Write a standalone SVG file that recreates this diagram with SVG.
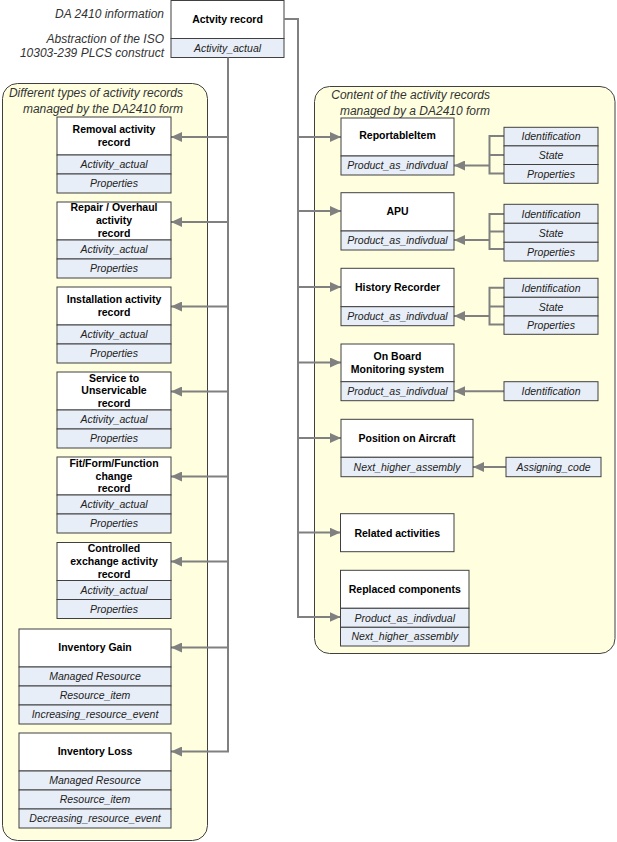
<svg xmlns="http://www.w3.org/2000/svg" width="617" height="842" viewBox="0 0 617 842">
<style>
text{font-family:"Liberation Sans",Arial,Helvetica,sans-serif}
.panel{fill:#FFFFE0;stroke:#404040;stroke-width:1}
.hdr{fill:#FFFFFF;stroke:#404040;stroke-width:1}
.cmp{fill:#E8EEF7;stroke:#404040;stroke-width:1}
.t{font-size:10.5px;font-weight:bold;fill:#000;text-anchor:middle}
.i{font-size:10.5px;font-style:italic;fill:#222;text-anchor:middle}
.lbl{font-size:12px;font-style:italic;fill:#333;text-anchor:end}
.conn{fill:none;stroke:#808080;stroke-width:2}
</style>
<defs>
<marker id="arr" markerUnits="userSpaceOnUse" markerWidth="11" markerHeight="10" refX="11" refY="5" orient="auto">
<path d="M0,0 L11,5 L0,10 z" fill="#808080"/>
</marker>
</defs>

<g id="panel-left">
<rect class="panel" x="2.5" y="83.5" width="205" height="757" rx="15" ry="15"/>
<text class="lbl" x="183" y="96.5">Different types of activity records</text>
<text class="lbl" x="183" y="112.5">managed by the DA2410 form</text>
</g>
<g id="panel-right">
<rect class="panel" x="314.5" y="86.5" width="300.5" height="567" rx="15" ry="15"/>
<text class="lbl" x="490" y="99">Content of the activity records</text>
<text class="lbl" x="490" y="115">managed by a DA2410 form</text>
</g>

<g id="labels-top">
<text class="lbl" x="164" y="17.5">DA 2410 information</text>
<text class="lbl" x="164" y="43">Abstraction of the ISO</text>
<text class="lbl" x="164" y="57">10303-239 PLCS construct</text>
</g>

<g id="activity-record">
<rect class="hdr" x="171" y="0.5" width="113" height="38"/>
<rect class="cmp" x="171" y="38.5" width="113" height="19"/>
<text class="t" x="227.5" y="23">Actvity record</text>
<text class="i" x="227.5" y="51.8">Activity_actual</text>
</g>

<g id="connectors">
<polyline class="conn" points="228,57.5 228,752"/>
<line class="conn" x1="228" y1="137" x2="171" y2="137" marker-end="url(#arr)"/>
<line class="conn" x1="228" y1="222" x2="171" y2="222" marker-end="url(#arr)"/>
<line class="conn" x1="228" y1="306.5" x2="171" y2="306.5" marker-end="url(#arr)"/>
<line class="conn" x1="228" y1="391.5" x2="171" y2="391.5" marker-end="url(#arr)"/>
<line class="conn" x1="228" y1="476.5" x2="171" y2="476.5" marker-end="url(#arr)"/>
<line class="conn" x1="228" y1="561.5" x2="171" y2="561.5" marker-end="url(#arr)"/>
<line class="conn" x1="228" y1="647.5" x2="171" y2="647.5" marker-end="url(#arr)"/>
<line class="conn" x1="229" y1="751.5" x2="171" y2="751.5" marker-end="url(#arr)"/>

<polyline class="conn" points="284,19 298,19 298,617"/>
<line class="conn" x1="298" y1="137" x2="341" y2="137" marker-end="url(#arr)"/>
<line class="conn" x1="298" y1="211" x2="341" y2="211" marker-end="url(#arr)"/>
<line class="conn" x1="298" y1="287" x2="341" y2="287" marker-end="url(#arr)"/>
<line class="conn" x1="298" y1="362.5" x2="341" y2="362.5" marker-end="url(#arr)"/>
<line class="conn" x1="298" y1="438" x2="341" y2="438" marker-end="url(#arr)"/>
<line class="conn" x1="298" y1="532.5" x2="340.5" y2="532.5" marker-end="url(#arr)"/>
<line class="conn" x1="297" y1="617" x2="340.5" y2="617" marker-end="url(#arr)"/>

<polyline class="conn" points="504,136 489.5,136 489.5,173.5 504,173.5"/>
<line class="conn" x1="489.5" y1="155" x2="504" y2="155"/>
<line class="conn" x1="489.5" y1="165.5" x2="454" y2="165.5" marker-end="url(#arr)"/>

<polyline class="conn" points="504,214 489.5,214 489.5,249 504,249"/>
<line class="conn" x1="489.5" y1="231.5" x2="504" y2="231.5"/>
<line class="conn" x1="489.5" y1="240" x2="454" y2="240" marker-end="url(#arr)"/>

<polyline class="conn" points="504,287.8 489.5,287.8 489.5,324.5 504,324.5"/>
<line class="conn" x1="489.5" y1="306.5" x2="504" y2="306.5"/>
<line class="conn" x1="489.5" y1="316" x2="454" y2="316" marker-end="url(#arr)"/>

<line class="conn" x1="504" y1="391.2" x2="454" y2="391.2" marker-end="url(#arr)"/>
<line class="conn" x1="506" y1="467" x2="473" y2="467" marker-end="url(#arr)"/>
</g>

<g id="removal">
<rect class="hdr" x="57" y="117" width="114" height="38"/>
<rect class="cmp" x="57" y="155" width="114" height="19"/>
<rect class="cmp" x="57" y="174" width="114" height="19"/>
<text class="t" x="114" y="133.3">Removal activity</text>
<text class="t" x="114" y="145.8">record</text>
<text class="i" x="114" y="168.3">Activity_actual</text>
<text class="i" x="114" y="187.3">Properties</text>
</g>

<g id="repair">
<rect class="hdr" x="57" y="202" width="114" height="38"/>
<rect class="cmp" x="57" y="240" width="114" height="19"/>
<rect class="cmp" x="57" y="259" width="114" height="19"/>
<text class="t" x="114" y="210.5">Repair / Overhaul</text>
<text class="t" x="114" y="224">activity</text>
<text class="t" x="114" y="236.5">record</text>
<text class="i" x="114" y="253.3">Activity_actual</text>
<text class="i" x="114" y="272.3">Properties</text>
</g>

<g id="installation">
<rect class="hdr" x="57" y="287" width="114" height="38"/>
<rect class="cmp" x="57" y="325" width="114" height="19"/>
<rect class="cmp" x="57" y="344" width="114" height="19"/>
<text class="t" x="114" y="303">Installation activity</text>
<text class="t" x="114" y="316">record</text>
<text class="i" x="114" y="338.3">Activity_actual</text>
<text class="i" x="114" y="357.3">Properties</text>
</g>

<g id="service">
<rect class="hdr" x="57" y="372" width="114" height="38"/>
<rect class="cmp" x="57" y="410" width="114" height="19"/>
<rect class="cmp" x="57" y="429" width="114" height="19"/>
<text class="t" x="114" y="381.5">Service to</text>
<text class="t" x="114" y="394.3">Unservicable</text>
<text class="t" x="114" y="407.3">record</text>
<text class="i" x="114" y="423.3">Activity_actual</text>
<text class="i" x="114" y="442.3">Properties</text>
</g>

<g id="fitformfunction">
<rect class="hdr" x="57" y="457" width="114" height="38"/>
<rect class="cmp" x="57" y="495" width="114" height="19"/>
<rect class="cmp" x="57" y="514" width="114" height="19"/>
<text class="t" x="114" y="466.5">Fit/Form/Function</text>
<text class="t" x="114" y="479.5">change</text>
<text class="t" x="114" y="492">record</text>
<text class="i" x="114" y="508.3">Activity_actual</text>
<text class="i" x="114" y="527.3">Properties</text>
</g>

<g id="controlled">
<rect class="hdr" x="57" y="542.5" width="114" height="38"/>
<rect class="cmp" x="57" y="580.5" width="114" height="19"/>
<rect class="cmp" x="57" y="599.5" width="114" height="19"/>
<text class="t" x="114" y="552">Controlled</text>
<text class="t" x="114" y="565">exchange activity</text>
<text class="t" x="114" y="578">record</text>
<text class="i" x="114" y="593.8">Activity_actual</text>
<text class="i" x="114" y="612.8">Properties</text>
</g>

<g id="inventory-gain">
<rect class="hdr" x="19" y="629" width="152" height="38"/>
<rect class="cmp" x="19" y="667" width="152" height="19"/>
<rect class="cmp" x="19" y="686" width="152" height="19"/>
<rect class="cmp" x="19" y="705" width="152" height="19"/>
<text class="t" x="95" y="650.5">Inventory Gain</text>
<text class="i" x="95" y="680.3">Managed Resource</text>
<text class="i" x="95" y="699.3">Resource_item</text>
<text class="i" x="95" y="718.3">Increasing_resource_event</text>
</g>

<g id="inventory-loss">
<rect class="hdr" x="19" y="733" width="152" height="38"/>
<rect class="cmp" x="19" y="771" width="152" height="19"/>
<rect class="cmp" x="19" y="790" width="152" height="19"/>
<rect class="cmp" x="19" y="809" width="152" height="19"/>
<text class="t" x="95" y="754.5">Inventory Loss</text>
<text class="i" x="95" y="784.3">Managed Resource</text>
<text class="i" x="95" y="803.3">Resource_item</text>
<text class="i" x="95" y="822.3">Decreasing_resource_event</text>
</g>

<g id="reportableitem">
<rect class="hdr" x="341" y="118" width="113" height="38"/>
<rect class="cmp" x="341" y="156" width="113" height="19"/>
<text class="t" x="397.5" y="139">ReportableItem</text>
<text class="i" x="397.5" y="169.3">Product_as_indivdual</text>
</g>
<g id="reportableitem-attrs">
<rect class="cmp" x="504" y="127.3" width="94" height="18.6"/>
<rect class="cmp" x="504" y="145.9" width="94" height="18.6"/>
<rect class="cmp" x="504" y="164.5" width="94" height="18.8"/>
<text class="i" x="551" y="140.4">Identification</text>
<text class="i" x="551" y="159">State</text>
<text class="i" x="551" y="177.7">Properties</text>
</g>

<g id="apu">
<rect class="hdr" x="341" y="192.7" width="113" height="38.3"/>
<rect class="cmp" x="341" y="231" width="113" height="19"/>
<text class="t" x="397.5" y="215">APU</text>
<text class="i" x="397.5" y="244.3">Product_as_indivdual</text>
</g>
<g id="apu-attrs">
<rect class="cmp" x="504" y="204.3" width="94" height="19"/>
<rect class="cmp" x="504" y="223.3" width="94" height="19"/>
<rect class="cmp" x="504" y="242.3" width="94" height="18.7"/>
<text class="i" x="551" y="217.6">Identification</text>
<text class="i" x="551" y="236.6">State</text>
<text class="i" x="551" y="255.5">Properties</text>
</g>

<g id="history-recorder">
<rect class="hdr" x="341" y="268.3" width="113" height="38.4"/>
<rect class="cmp" x="341" y="306.7" width="113" height="19"/>
<text class="t" x="397.5" y="290.5">History Recorder</text>
<text class="i" x="397.5" y="320">Product_as_indivdual</text>
</g>
<g id="history-recorder-attrs">
<rect class="cmp" x="504" y="278.3" width="94" height="19"/>
<rect class="cmp" x="504" y="297.3" width="94" height="18.7"/>
<rect class="cmp" x="504" y="316" width="94" height="18.3"/>
<text class="i" x="551" y="291.6">Identification</text>
<text class="i" x="551" y="310.5">State</text>
<text class="i" x="551" y="329">Properties</text>
</g>

<g id="onboard-monitoring">
<rect class="hdr" x="341" y="344" width="113" height="37.7"/>
<rect class="cmp" x="341" y="381.7" width="113" height="19"/>
<text class="t" x="397.5" y="359.8">On Board</text>
<text class="t" x="397.5" y="372.5">Monitoring system</text>
<text class="i" x="397.5" y="395">Product_as_indivdual</text>
</g>
<g id="onboard-monitoring-attrs">
<rect class="cmp" x="504" y="381.7" width="94" height="19"/>
<text class="i" x="551" y="395">Identification</text>
</g>

<g id="position-on-aircraft">
<rect class="hdr" x="341" y="419.3" width="132" height="38"/>
<rect class="cmp" x="341" y="457.3" width="132" height="19.4"/>
<text class="t" x="407" y="441.5">Position on Aircraft</text>
<text class="i" x="407" y="470.8">Next_higher_assembly</text>
</g>
<g id="position-on-aircraft-attrs">
<rect class="cmp" x="506" y="457.3" width="95" height="19.4"/>
<text class="i" x="553.5" y="470.8">Assigning_code</text>
</g>

<g id="related-activities">
<rect class="hdr" x="340.5" y="513.7" width="113.5" height="38"/>
<text class="t" x="397.3" y="536.5">Related activities</text>
</g>

<g id="replaced-components">
<rect class="hdr" x="340.5" y="570.3" width="128.5" height="38"/>
<rect class="cmp" x="340.5" y="608.3" width="128.5" height="19"/>
<rect class="cmp" x="340.5" y="627.3" width="128.5" height="18.7"/>
<text class="t" x="404.8" y="592.5">Replaced components</text>
<text class="i" x="404.8" y="621.6">Product_as_indivdual</text>
<text class="i" x="404.8" y="640.4">Next_higher_assembly</text>
</g>
</svg>
